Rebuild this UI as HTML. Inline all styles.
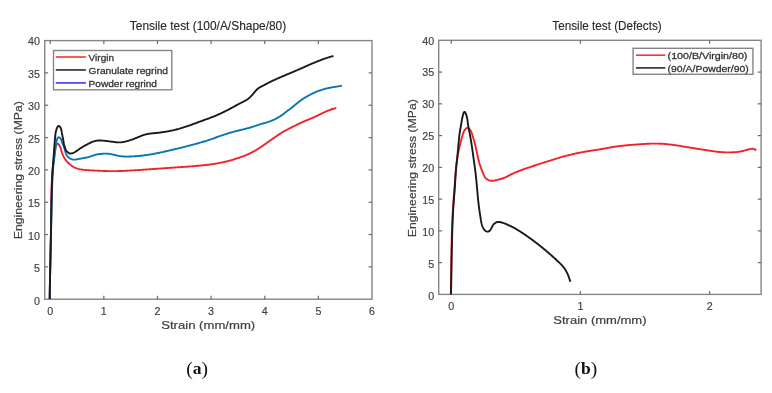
<!DOCTYPE html>
<html><head><meta charset="utf-8"><title>Tensile test</title>
<style>
html,body{margin:0;padding:0;background:#fff;}
body{width:772px;height:393px;overflow:hidden;}
svg{display:block;filter:blur(0.25px);}
text{stroke-linejoin:round;}
.t{font-family:"Liberation Sans",sans-serif;font-size:10px;fill:#404040;stroke:#404040;stroke-width:0.15px;}
.ti{font-family:"Liberation Sans",sans-serif;font-size:12.9px;fill:#2a2a2a;stroke:#2a2a2a;stroke-width:0.15px;}
.xl{font-family:"Liberation Sans",sans-serif;font-size:11px;fill:#404040;stroke:#404040;stroke-width:0.2px;}
.lg{font-family:"Liberation Sans",sans-serif;font-size:9.2px;fill:#333;stroke:#333;stroke-width:0.28px;}
.cap{font-family:"Liberation Serif",serif;font-size:17.5px;fill:#111;}
</style></head><body>
<svg width="772" height="393" viewBox="0 0 772 393">
<rect width="772" height="393" fill="#fff"/>
<rect x="44.75" y="40.6" width="327.25" height="258.60" fill="none" stroke="#858585" stroke-width="1.4"/>
<line x1="50.20" y1="299.2" x2="50.20" y2="295.8" stroke="#6a6a6a" stroke-width="1.2"/>
<line x1="50.20" y1="40.6" x2="50.20" y2="44.0" stroke="#6a6a6a" stroke-width="1.2"/>
<line x1="103.83" y1="299.2" x2="103.83" y2="295.8" stroke="#6a6a6a" stroke-width="1.2"/>
<line x1="103.83" y1="40.6" x2="103.83" y2="44.0" stroke="#6a6a6a" stroke-width="1.2"/>
<line x1="157.46" y1="299.2" x2="157.46" y2="295.8" stroke="#6a6a6a" stroke-width="1.2"/>
<line x1="157.46" y1="40.6" x2="157.46" y2="44.0" stroke="#6a6a6a" stroke-width="1.2"/>
<line x1="211.09" y1="299.2" x2="211.09" y2="295.8" stroke="#6a6a6a" stroke-width="1.2"/>
<line x1="211.09" y1="40.6" x2="211.09" y2="44.0" stroke="#6a6a6a" stroke-width="1.2"/>
<line x1="264.72" y1="299.2" x2="264.72" y2="295.8" stroke="#6a6a6a" stroke-width="1.2"/>
<line x1="264.72" y1="40.6" x2="264.72" y2="44.0" stroke="#6a6a6a" stroke-width="1.2"/>
<line x1="318.35" y1="299.2" x2="318.35" y2="295.8" stroke="#6a6a6a" stroke-width="1.2"/>
<line x1="318.35" y1="40.6" x2="318.35" y2="44.0" stroke="#6a6a6a" stroke-width="1.2"/>
<line x1="44.75" y1="266.88" x2="48.15" y2="266.88" stroke="#6a6a6a" stroke-width="1.2"/>
<line x1="372.0" y1="266.88" x2="368.6" y2="266.88" stroke="#6a6a6a" stroke-width="1.2"/>
<line x1="44.75" y1="234.55" x2="48.15" y2="234.55" stroke="#6a6a6a" stroke-width="1.2"/>
<line x1="372.0" y1="234.55" x2="368.6" y2="234.55" stroke="#6a6a6a" stroke-width="1.2"/>
<line x1="44.75" y1="202.22" x2="48.15" y2="202.22" stroke="#6a6a6a" stroke-width="1.2"/>
<line x1="372.0" y1="202.22" x2="368.6" y2="202.22" stroke="#6a6a6a" stroke-width="1.2"/>
<line x1="44.75" y1="169.90" x2="48.15" y2="169.90" stroke="#6a6a6a" stroke-width="1.2"/>
<line x1="372.0" y1="169.90" x2="368.6" y2="169.90" stroke="#6a6a6a" stroke-width="1.2"/>
<line x1="44.75" y1="137.57" x2="48.15" y2="137.57" stroke="#6a6a6a" stroke-width="1.2"/>
<line x1="372.0" y1="137.57" x2="368.6" y2="137.57" stroke="#6a6a6a" stroke-width="1.2"/>
<line x1="44.75" y1="105.25" x2="48.15" y2="105.25" stroke="#6a6a6a" stroke-width="1.2"/>
<line x1="372.0" y1="105.25" x2="368.6" y2="105.25" stroke="#6a6a6a" stroke-width="1.2"/>
<line x1="44.75" y1="72.92" x2="48.15" y2="72.92" stroke="#6a6a6a" stroke-width="1.2"/>
<line x1="372.0" y1="72.92" x2="368.6" y2="72.92" stroke="#6a6a6a" stroke-width="1.2"/>
<rect x="438.7" y="40.3" width="322.40" height="254.10" fill="none" stroke="#858585" stroke-width="1.4"/>
<line x1="451.20" y1="294.4" x2="451.20" y2="291.0" stroke="#6a6a6a" stroke-width="1.2"/>
<line x1="451.20" y1="40.3" x2="451.20" y2="43.699999999999996" stroke="#6a6a6a" stroke-width="1.2"/>
<line x1="580.40" y1="294.4" x2="580.40" y2="291.0" stroke="#6a6a6a" stroke-width="1.2"/>
<line x1="580.40" y1="40.3" x2="580.40" y2="43.699999999999996" stroke="#6a6a6a" stroke-width="1.2"/>
<line x1="709.60" y1="294.4" x2="709.60" y2="291.0" stroke="#6a6a6a" stroke-width="1.2"/>
<line x1="709.60" y1="40.3" x2="709.60" y2="43.699999999999996" stroke="#6a6a6a" stroke-width="1.2"/>
<line x1="438.7" y1="262.64" x2="442.09999999999997" y2="262.64" stroke="#6a6a6a" stroke-width="1.2"/>
<line x1="761.1" y1="262.64" x2="757.7" y2="262.64" stroke="#6a6a6a" stroke-width="1.2"/>
<line x1="438.7" y1="230.87" x2="442.09999999999997" y2="230.87" stroke="#6a6a6a" stroke-width="1.2"/>
<line x1="761.1" y1="230.87" x2="757.7" y2="230.87" stroke="#6a6a6a" stroke-width="1.2"/>
<line x1="438.7" y1="199.11" x2="442.09999999999997" y2="199.11" stroke="#6a6a6a" stroke-width="1.2"/>
<line x1="761.1" y1="199.11" x2="757.7" y2="199.11" stroke="#6a6a6a" stroke-width="1.2"/>
<line x1="438.7" y1="167.35" x2="442.09999999999997" y2="167.35" stroke="#6a6a6a" stroke-width="1.2"/>
<line x1="761.1" y1="167.35" x2="757.7" y2="167.35" stroke="#6a6a6a" stroke-width="1.2"/>
<line x1="438.7" y1="135.59" x2="442.09999999999997" y2="135.59" stroke="#6a6a6a" stroke-width="1.2"/>
<line x1="761.1" y1="135.59" x2="757.7" y2="135.59" stroke="#6a6a6a" stroke-width="1.2"/>
<line x1="438.7" y1="103.82" x2="442.09999999999997" y2="103.82" stroke="#6a6a6a" stroke-width="1.2"/>
<line x1="761.1" y1="103.82" x2="757.7" y2="103.82" stroke="#6a6a6a" stroke-width="1.2"/>
<line x1="438.7" y1="72.06" x2="442.09999999999997" y2="72.06" stroke="#6a6a6a" stroke-width="1.2"/>
<line x1="761.1" y1="72.06" x2="757.7" y2="72.06" stroke="#6a6a6a" stroke-width="1.2"/>
<text x="50.20" y="314.8" class="t" text-anchor="middle" textLength="5.95" lengthAdjust="spacingAndGlyphs">0</text>
<text x="103.83" y="314.8" class="t" text-anchor="middle" textLength="5.95" lengthAdjust="spacingAndGlyphs">1</text>
<text x="157.46" y="314.8" class="t" text-anchor="middle" textLength="5.95" lengthAdjust="spacingAndGlyphs">2</text>
<text x="211.09" y="314.8" class="t" text-anchor="middle" textLength="5.95" lengthAdjust="spacingAndGlyphs">3</text>
<text x="264.72" y="314.8" class="t" text-anchor="middle" textLength="5.95" lengthAdjust="spacingAndGlyphs">4</text>
<text x="318.35" y="314.8" class="t" text-anchor="middle" textLength="5.95" lengthAdjust="spacingAndGlyphs">5</text>
<text x="371.98" y="314.8" class="t" text-anchor="middle" textLength="5.95" lengthAdjust="spacingAndGlyphs">6</text>
<text x="40.0" y="304.70" class="t" text-anchor="end" textLength="5.95" lengthAdjust="spacingAndGlyphs">0</text>
<text x="40.0" y="272.29" class="t" text-anchor="end" textLength="5.95" lengthAdjust="spacingAndGlyphs">5</text>
<text x="40.0" y="239.88" class="t" text-anchor="end" textLength="11.90" lengthAdjust="spacingAndGlyphs">10</text>
<text x="40.0" y="207.46" class="t" text-anchor="end" textLength="11.90" lengthAdjust="spacingAndGlyphs">15</text>
<text x="40.0" y="175.05" class="t" text-anchor="end" textLength="11.90" lengthAdjust="spacingAndGlyphs">20</text>
<text x="40.0" y="142.64" class="t" text-anchor="end" textLength="11.90" lengthAdjust="spacingAndGlyphs">25</text>
<text x="40.0" y="110.22" class="t" text-anchor="end" textLength="11.90" lengthAdjust="spacingAndGlyphs">30</text>
<text x="40.0" y="77.81" class="t" text-anchor="end" textLength="11.90" lengthAdjust="spacingAndGlyphs">35</text>
<text x="40.0" y="45.40" class="t" text-anchor="end" textLength="11.90" lengthAdjust="spacingAndGlyphs">40</text>
<text x="451.20" y="310.1" class="t" text-anchor="middle" textLength="5.95" lengthAdjust="spacingAndGlyphs">0</text>
<text x="580.40" y="310.1" class="t" text-anchor="middle" textLength="5.95" lengthAdjust="spacingAndGlyphs">1</text>
<text x="709.60" y="310.1" class="t" text-anchor="middle" textLength="5.95" lengthAdjust="spacingAndGlyphs">2</text>
<text x="434.1" y="299.90" class="t" text-anchor="end" textLength="5.95" lengthAdjust="spacingAndGlyphs">0</text>
<text x="434.1" y="267.97" class="t" text-anchor="end" textLength="5.95" lengthAdjust="spacingAndGlyphs">5</text>
<text x="434.1" y="236.05" class="t" text-anchor="end" textLength="11.90" lengthAdjust="spacingAndGlyphs">10</text>
<text x="434.1" y="204.12" class="t" text-anchor="end" textLength="11.90" lengthAdjust="spacingAndGlyphs">15</text>
<text x="434.1" y="172.20" class="t" text-anchor="end" textLength="11.90" lengthAdjust="spacingAndGlyphs">20</text>
<text x="434.1" y="140.27" class="t" text-anchor="end" textLength="11.90" lengthAdjust="spacingAndGlyphs">25</text>
<text x="434.1" y="108.35" class="t" text-anchor="end" textLength="11.90" lengthAdjust="spacingAndGlyphs">30</text>
<text x="434.1" y="76.42" class="t" text-anchor="end" textLength="11.90" lengthAdjust="spacingAndGlyphs">35</text>
<text x="434.1" y="44.50" class="t" text-anchor="end" textLength="11.90" lengthAdjust="spacingAndGlyphs">40</text>
<text x="208" y="29.8" class="ti" text-anchor="middle" textLength="156.4" lengthAdjust="spacingAndGlyphs">Tensile test (100/A/Shape/80)</text>
<text x="607" y="29.9" class="ti" text-anchor="middle" textLength="109.4" lengthAdjust="spacingAndGlyphs">Tensile test (Defects)</text>
<text x="208.2" y="329" class="xl" text-anchor="middle" textLength="94" lengthAdjust="spacingAndGlyphs">Strain (mm/mm)</text>
<text x="599.9" y="324.4" class="xl" text-anchor="middle" textLength="93.3" lengthAdjust="spacingAndGlyphs">Strain (mm/mm)</text>
<text transform="translate(21.9,170.20) rotate(-90)" x="0" y="0" class="xl" text-anchor="middle" textLength="138.2" lengthAdjust="spacingAndGlyphs">Engineering stress (MPa)</text>
<text transform="translate(415.5,168.20) rotate(-90)" x="0" y="0" class="xl" text-anchor="middle" textLength="137.9" lengthAdjust="spacingAndGlyphs">Engineering stress (MPa)</text>
<g fill="none" stroke-width="1.9" stroke-linejoin="round" stroke-linecap="butt">
<path d="M49.70,299.00 L49.71,298.23 L49.72,297.46 L49.73,296.69 L49.74,295.91 L49.75,295.14 L49.76,294.37 L49.77,293.60 L49.78,292.83 L49.79,292.06 L49.80,291.29 L49.81,290.51 L49.83,289.74 L49.84,288.97 L49.85,288.20 L49.86,287.43 L49.87,286.66 L49.89,285.89 L49.90,285.11 L49.91,284.34 L49.93,283.57 L49.94,282.80 L49.96,282.03 L49.97,281.26 L49.98,280.49 L50.00,279.71 L50.01,278.94 L50.03,278.17 L50.04,277.40 L50.06,276.63 L50.07,275.86 L50.09,275.09 L50.10,274.32 L50.12,273.55 L50.13,272.77 L50.15,272.00 L50.16,271.23 L50.18,270.46 L50.20,269.69 L50.21,268.92 L50.23,268.15 L50.24,267.38 L50.26,266.60 L50.28,265.83 L50.29,265.06 L50.31,264.29 L50.33,263.52 L50.34,262.75 L50.36,261.98 L50.37,261.21 L50.39,260.44 L50.41,259.66 L50.42,258.89 L50.44,258.12 L50.46,257.35 L50.47,256.58 L50.49,255.81 L50.50,255.04 L50.52,254.27 L50.54,253.49 L50.55,252.72 L50.57,251.95 L50.58,251.18 L50.60,250.41 L50.62,249.64 L50.63,248.87 L50.65,248.10 L50.66,247.33 L50.68,246.55 L50.69,245.78 L50.71,245.01 L50.72,244.24 L50.74,243.47 L50.75,242.70 L50.77,241.93 L50.78,241.16 L50.80,240.38 L50.81,239.61 L50.83,238.84 L50.84,238.07 L50.85,237.30 L50.87,236.53 L50.88,235.76 L50.89,234.98 L50.91,234.21 L50.92,233.44 L50.93,232.67 L50.94,231.90 L50.96,231.13 L50.97,230.36 L50.98,229.59 L50.99,228.81 L51.00,228.04 L51.01,227.27 L51.02,226.50 L51.03,225.73 L51.04,224.96 L51.05,224.19 L51.06,223.41 L51.07,222.64 L51.08,221.87 L51.09,221.10 L51.10,220.33 L51.10,219.56 L51.11,218.78 L51.12,218.01 L51.13,217.24 L51.13,216.47 L51.14,215.70 L51.15,214.93 L51.15,214.15 L51.16,213.38 L51.17,212.61 L51.17,211.84 L51.18,211.07 L51.19,210.30 L51.19,209.52 L51.20,208.75 L51.21,207.98 L51.22,207.21 L51.22,206.44 L51.23,205.67 L51.24,204.89 L51.25,204.12 L51.26,203.35 L51.27,202.58 L51.28,201.81 L51.29,201.04 L51.30,200.27 L51.31,199.49 L51.33,198.72 L51.34,197.95 L51.35,197.18 L51.37,196.41 L51.38,195.64 L51.40,194.87 L51.42,194.10 L51.44,193.32 L51.45,192.55 L51.47,191.78 L51.50,191.01 L51.52,190.24 L51.54,189.47 L51.57,188.70 L51.59,187.93 L51.62,187.16 L51.65,186.39 L51.68,185.62 L51.71,184.85 L51.74,184.08 L51.77,183.31 L51.81,182.54 L51.84,181.77 L51.88,181.00 L51.92,180.23 L51.96,179.46 L52.00,178.69 L52.05,177.92 L52.09,177.15 L52.14,176.38 L52.19,175.61 L52.24,174.84 L52.29,174.07 L52.35,173.30 L52.40,172.53 L52.46,171.76 L52.52,170.99 L52.58,170.22 L52.65,169.45 L52.71,168.68 L52.78,167.91 L52.85,167.14 L52.92,166.37 L53.00,165.60 L53.07,164.83 L53.15,164.06 L53.23,163.29 L53.31,162.53 L53.40,161.76 L53.48,161.00 L53.57,160.24 L53.66,159.47 L53.76,158.71 L53.85,157.95 L53.95,157.19 L54.04,156.43 L54.14,155.66 L54.25,154.90 L54.35,154.13 L54.45,153.36 L54.56,152.58 L54.66,151.80 L54.78,151.02 L54.89,150.25 L55.02,149.49 L55.15,148.74 L55.30,148.02 L55.46,147.30 L55.65,146.59 L55.88,145.85 L56.17,145.07 L56.54,144.25 L57.02,143.68 L57.63,143.64 L58.31,144.10 L58.94,144.77 L59.46,145.46 L59.87,146.15 L60.19,146.85 L60.45,147.56 L60.67,148.27 L60.86,148.98 L61.05,149.70 L61.26,150.43 L61.48,151.16 L61.71,151.89 L61.96,152.63 L62.23,153.36 L62.51,154.09 L62.80,154.81 L63.12,155.52 L63.45,156.23 L63.80,156.92 L64.17,157.60 L64.56,158.27 L64.97,158.92 L65.40,159.56 L65.86,160.18 L66.33,160.79 L66.83,161.38 L67.35,161.95 L67.88,162.50 L68.44,163.04 L69.01,163.57 L69.59,164.08 L70.19,164.58 L70.80,165.06 L71.42,165.53 L72.05,165.98 L72.70,166.41 L73.36,166.82 L74.03,167.20 L74.71,167.56 L75.41,167.89 L76.12,168.19 L76.83,168.45 L77.56,168.69 L78.30,168.91 L79.05,169.09 L79.80,169.26 L80.56,169.41 L81.33,169.53 L82.10,169.65 L82.87,169.75 L83.65,169.83 L84.42,169.91 L85.20,169.98 L85.98,170.05 L86.75,170.11 L87.53,170.17 L88.30,170.22 L89.07,170.28 L89.84,170.32 L90.61,170.37 L91.38,170.41 L92.15,170.45 L92.92,170.49 L93.69,170.53 L94.46,170.56 L95.23,170.60 L96.00,170.63 L96.76,170.66 L97.53,170.70 L98.30,170.73 L99.07,170.76 L99.84,170.79 L100.61,170.83 L101.38,170.86 L102.15,170.89 L102.92,170.93 L103.69,170.96 L104.46,170.99 L105.23,171.02 L106.00,171.04 L106.77,171.07 L107.55,171.09 L108.32,171.11 L109.09,171.12 L109.86,171.13 L110.63,171.14 L111.40,171.15 L112.18,171.15 L112.95,171.15 L113.72,171.14 L114.49,171.14 L115.26,171.13 L116.03,171.11 L116.80,171.10 L117.58,171.08 L118.35,171.06 L119.12,171.04 L119.89,171.02 L120.66,170.99 L121.43,170.96 L122.20,170.93 L122.97,170.90 L123.75,170.87 L124.52,170.83 L125.29,170.80 L126.06,170.76 L126.83,170.72 L127.60,170.68 L128.37,170.64 L129.14,170.60 L129.91,170.56 L130.68,170.51 L131.45,170.47 L132.22,170.42 L132.99,170.38 L133.76,170.33 L134.53,170.28 L135.30,170.24 L136.07,170.19 L136.84,170.14 L137.61,170.09 L138.38,170.04 L139.15,169.99 L139.92,169.94 L140.69,169.89 L141.46,169.84 L142.23,169.79 L143.00,169.74 L143.77,169.68 L144.54,169.63 L145.31,169.58 L146.08,169.53 L146.85,169.47 L147.62,169.42 L148.39,169.37 L149.16,169.31 L149.93,169.26 L150.70,169.20 L151.47,169.15 L152.24,169.10 L153.00,169.04 L153.77,168.99 L154.54,168.93 L155.31,168.88 L156.08,168.82 L156.85,168.77 L157.62,168.71 L158.39,168.66 L159.16,168.61 L159.93,168.55 L160.70,168.50 L161.47,168.44 L162.24,168.39 L163.01,168.34 L163.78,168.28 L164.55,168.23 L165.32,168.17 L166.09,168.12 L166.86,168.07 L167.63,168.01 L168.39,167.96 L169.16,167.90 L169.93,167.85 L170.70,167.80 L171.47,167.74 L172.24,167.69 L173.01,167.64 L173.78,167.58 L174.55,167.53 L175.32,167.48 L176.09,167.42 L176.86,167.37 L177.63,167.32 L178.40,167.27 L179.17,167.21 L179.94,167.16 L180.71,167.11 L181.48,167.05 L182.25,167.00 L183.02,166.95 L183.79,166.89 L184.56,166.84 L185.33,166.79 L186.10,166.73 L186.87,166.68 L187.63,166.62 L188.40,166.56 L189.17,166.51 L189.94,166.45 L190.71,166.39 L191.48,166.33 L192.25,166.27 L193.02,166.21 L193.79,166.15 L194.56,166.08 L195.33,166.02 L196.09,165.95 L196.86,165.89 L197.63,165.82 L198.40,165.75 L199.17,165.68 L199.94,165.61 L200.70,165.53 L201.47,165.46 L202.24,165.38 L203.01,165.30 L203.77,165.22 L204.54,165.14 L205.31,165.05 L206.07,164.97 L206.84,164.88 L207.61,164.79 L208.37,164.69 L209.14,164.60 L209.90,164.50 L210.67,164.39 L211.43,164.29 L212.20,164.18 L212.96,164.07 L213.72,163.95 L214.48,163.83 L215.25,163.71 L216.01,163.58 L216.77,163.45 L217.53,163.32 L218.29,163.18 L219.05,163.04 L219.81,162.90 L220.56,162.75 L221.32,162.60 L222.08,162.44 L222.83,162.29 L223.58,162.12 L224.34,161.95 L225.09,161.78 L225.84,161.61 L226.59,161.43 L227.34,161.24 L228.09,161.05 L228.84,160.86 L229.58,160.66 L230.33,160.46 L231.07,160.26 L231.81,160.05 L232.55,159.84 L233.29,159.62 L234.03,159.40 L234.77,159.17 L235.51,158.94 L236.24,158.71 L236.98,158.47 L237.71,158.22 L238.44,157.98 L239.17,157.73 L239.90,157.47 L240.63,157.21 L241.36,156.95 L242.08,156.68 L242.80,156.41 L243.52,156.13 L244.24,155.85 L244.96,155.56 L245.68,155.26 L246.39,154.97 L247.10,154.66 L247.81,154.35 L248.51,154.03 L249.21,153.71 L249.91,153.38 L250.60,153.05 L251.29,152.70 L251.98,152.35 L252.66,151.99 L253.34,151.63 L254.02,151.26 L254.69,150.88 L255.36,150.49 L256.02,150.10 L256.68,149.70 L257.34,149.30 L258.00,148.89 L258.65,148.48 L259.30,148.06 L259.94,147.64 L260.59,147.21 L261.23,146.78 L261.87,146.35 L262.51,145.92 L263.15,145.48 L263.78,145.05 L264.41,144.61 L265.05,144.17 L265.68,143.72 L266.31,143.28 L266.94,142.83 L267.57,142.39 L268.20,141.94 L268.82,141.49 L269.45,141.05 L270.08,140.60 L270.71,140.15 L271.34,139.70 L271.97,139.26 L272.60,138.81 L273.23,138.37 L273.86,137.92 L274.50,137.48 L275.13,137.04 L275.77,136.61 L276.41,136.17 L277.05,135.74 L277.69,135.31 L278.33,134.88 L278.98,134.46 L279.63,134.04 L280.28,133.63 L280.93,133.22 L281.58,132.81 L282.24,132.41 L282.90,132.01 L283.57,131.62 L284.24,131.24 L284.91,130.86 L285.58,130.48 L286.26,130.11 L286.94,129.75 L287.62,129.39 L288.30,129.03 L288.99,128.68 L289.68,128.33 L290.37,127.98 L291.06,127.64 L291.75,127.30 L292.44,126.95 L293.13,126.61 L293.83,126.27 L294.52,125.93 L295.21,125.59 L295.90,125.25 L296.60,124.91 L297.29,124.56 L297.98,124.22 L298.67,123.88 L299.36,123.54 L300.06,123.21 L300.76,122.88 L301.45,122.55 L302.16,122.23 L302.86,121.92 L303.57,121.61 L304.28,121.30 L304.99,121.00 L305.70,120.71 L306.41,120.41 L307.13,120.12 L307.84,119.83 L308.56,119.54 L309.27,119.25 L309.98,118.95 L310.70,118.66 L311.41,118.36 L312.12,118.06 L312.83,117.75 L313.53,117.44 L314.24,117.12 L314.94,116.80 L315.64,116.48 L316.33,116.14 L317.03,115.81 L317.72,115.48 L318.42,115.14 L319.11,114.80 L319.81,114.46 L320.50,114.12 L321.19,113.78 L321.89,113.44 L322.58,113.11 L323.28,112.78 L323.97,112.45 L324.67,112.12 L325.37,111.80 L326.08,111.49 L326.78,111.18 L327.49,110.88 L328.20,110.58 L328.91,110.29 L329.63,110.02 L330.35,109.75 L331.08,109.49 L331.81,109.24 L332.55,109.00 L333.29,108.77 L334.03,108.56 L334.78,108.36 L335.54,108.17 L336.30,108.00" stroke="#f2222c"/>
<path d="M49.70,299.00 L49.71,298.21 L49.72,297.41 L49.73,296.62 L49.74,295.83 L49.75,295.04 L49.76,294.24 L49.78,293.45 L49.79,292.66 L49.80,291.87 L49.81,291.07 L49.82,290.28 L49.84,289.49 L49.85,288.70 L49.86,287.91 L49.87,287.11 L49.89,286.32 L49.90,285.53 L49.91,284.74 L49.93,283.94 L49.94,283.15 L49.95,282.36 L49.97,281.57 L49.98,280.77 L50.00,279.98 L50.01,279.19 L50.03,278.40 L50.04,277.60 L50.06,276.81 L50.07,276.02 L50.09,275.23 L50.10,274.43 L50.12,273.64 L50.13,272.85 L50.15,272.06 L50.16,271.27 L50.18,270.47 L50.20,269.68 L50.21,268.89 L50.23,268.10 L50.24,267.30 L50.26,266.51 L50.28,265.72 L50.29,264.93 L50.31,264.13 L50.33,263.34 L50.34,262.55 L50.36,261.76 L50.38,260.97 L50.40,260.17 L50.41,259.38 L50.43,258.59 L50.45,257.80 L50.47,257.00 L50.48,256.21 L50.50,255.42 L50.52,254.63 L50.54,253.84 L50.55,253.04 L50.57,252.25 L50.59,251.46 L50.61,250.67 L50.62,249.87 L50.64,249.08 L50.66,248.29 L50.68,247.50 L50.70,246.70 L50.71,245.91 L50.73,245.12 L50.75,244.33 L50.77,243.54 L50.79,242.74 L50.81,241.95 L50.82,241.16 L50.84,240.37 L50.86,239.57 L50.88,238.78 L50.90,237.99 L50.91,237.20 L50.93,236.41 L50.95,235.61 L50.97,234.82 L50.99,234.03 L51.00,233.24 L51.02,232.44 L51.04,231.65 L51.06,230.86 L51.08,230.07 L51.09,229.27 L51.11,228.48 L51.13,227.69 L51.15,226.90 L51.17,226.10 L51.18,225.31 L51.20,224.52 L51.22,223.73 L51.24,222.94 L51.25,222.14 L51.27,221.35 L51.29,220.56 L51.31,219.77 L51.32,218.97 L51.34,218.18 L51.36,217.39 L51.37,216.60 L51.39,215.80 L51.41,215.01 L51.42,214.22 L51.44,213.43 L51.46,212.63 L51.48,211.84 L51.49,211.05 L51.51,210.26 L51.53,209.46 L51.55,208.67 L51.56,207.88 L51.58,207.09 L51.60,206.29 L51.62,205.50 L51.64,204.71 L51.65,203.92 L51.67,203.12 L51.69,202.33 L51.71,201.54 L51.73,200.75 L51.75,199.96 L51.77,199.16 L51.79,198.37 L51.81,197.58 L51.83,196.79 L51.86,195.99 L51.88,195.20 L51.90,194.41 L51.92,193.62 L51.95,192.83 L51.97,192.03 L51.99,191.24 L52.02,190.45 L52.04,189.66 L52.07,188.87 L52.09,188.07 L52.12,187.28 L52.15,186.49 L52.18,185.70 L52.20,184.91 L52.23,184.12 L52.26,183.32 L52.29,182.53 L52.32,181.74 L52.36,180.95 L52.39,180.16 L52.42,179.37 L52.46,178.57 L52.50,177.78 L52.54,176.99 L52.58,176.20 L52.63,175.41 L52.67,174.62 L52.72,173.83 L52.78,173.04 L52.83,172.24 L52.89,171.45 L52.95,170.66 L53.01,169.87 L53.08,169.08 L53.15,168.29 L53.22,167.50 L53.30,166.71 L53.38,165.92 L53.46,165.13 L53.54,164.35 L53.63,163.56 L53.73,162.78 L53.82,161.99 L53.92,161.21 L54.02,160.43 L54.12,159.65 L54.23,158.86 L54.33,158.08 L54.43,157.29 L54.54,156.49 L54.64,155.70 L54.74,154.89 L54.84,154.09 L54.94,153.28 L55.04,152.48 L55.13,151.68 L55.23,150.88 L55.32,150.08 L55.41,149.30 L55.50,148.52 L55.59,147.75 L55.68,146.99 L55.77,146.24 L55.86,145.51 L55.95,144.79 L56.05,144.06 L56.16,143.33 L56.29,142.57 L56.45,141.79 L56.64,140.97 L56.86,140.10 L57.13,139.17 L57.46,138.27 L57.88,137.56 L58.43,137.21 L59.11,137.35 L59.83,137.84 L60.43,138.47 L60.89,139.14 L61.25,139.85 L61.53,140.58 L61.78,141.32 L62.02,142.07 L62.29,142.81 L62.57,143.55 L62.87,144.28 L63.17,145.02 L63.48,145.75 L63.78,146.49 L64.06,147.23 L64.33,147.98 L64.57,148.74 L64.79,149.50 L64.99,150.28 L65.18,151.05 L65.39,151.82 L65.61,152.58 L65.86,153.33 L66.15,154.06 L66.49,154.77 L66.89,155.46 L67.35,156.11 L67.86,156.72 L68.42,157.30 L69.03,157.82 L69.68,158.30 L70.37,158.71 L71.10,159.06 L71.84,159.33 L72.60,159.52 L73.37,159.63 L74.15,159.66 L74.94,159.62 L75.73,159.54 L76.53,159.42 L77.32,159.27 L78.12,159.10 L78.92,158.94 L79.71,158.78 L80.51,158.63 L81.30,158.49 L82.08,158.35 L82.87,158.22 L83.65,158.09 L84.42,157.95 L85.20,157.80 L85.97,157.65 L86.73,157.48 L87.50,157.30 L88.26,157.10 L89.01,156.88 L89.77,156.64 L90.52,156.39 L91.27,156.12 L92.02,155.86 L92.77,155.60 L93.52,155.35 L94.28,155.11 L95.04,154.89 L95.81,154.70 L96.58,154.53 L97.36,154.39 L98.14,154.26 L98.93,154.14 L99.71,154.04 L100.50,153.94 L101.29,153.85 L102.08,153.76 L102.87,153.70 L103.66,153.64 L104.45,153.61 L105.24,153.60 L106.04,153.61 L106.83,153.65 L107.62,153.71 L108.41,153.79 L109.20,153.88 L109.98,154.00 L110.77,154.13 L111.55,154.27 L112.32,154.43 L113.10,154.59 L113.87,154.77 L114.64,154.95 L115.41,155.14 L116.19,155.32 L116.96,155.50 L117.73,155.67 L118.51,155.83 L119.28,155.98 L120.07,156.11 L120.85,156.22 L121.63,156.31 L122.42,156.39 L123.21,156.46 L124.00,156.51 L124.80,156.54 L125.59,156.57 L126.39,156.58 L127.18,156.58 L127.98,156.58 L128.77,156.57 L129.57,156.55 L130.37,156.52 L131.16,156.49 L131.95,156.45 L132.75,156.41 L133.54,156.37 L134.33,156.32 L135.12,156.27 L135.91,156.21 L136.70,156.15 L137.49,156.09 L138.28,156.02 L139.07,155.95 L139.86,155.87 L140.65,155.79 L141.43,155.70 L142.22,155.61 L143.01,155.51 L143.79,155.42 L144.58,155.31 L145.36,155.21 L146.15,155.09 L146.93,154.98 L147.71,154.86 L148.50,154.74 L149.28,154.61 L150.06,154.48 L150.85,154.35 L151.63,154.22 L152.41,154.08 L153.19,153.94 L153.97,153.79 L154.75,153.65 L155.53,153.50 L156.30,153.35 L157.08,153.19 L157.86,153.04 L158.64,152.88 L159.41,152.72 L160.19,152.56 L160.96,152.39 L161.74,152.23 L162.51,152.06 L163.29,151.89 L164.06,151.72 L164.83,151.55 L165.61,151.38 L166.38,151.20 L167.15,151.03 L167.93,150.85 L168.70,150.68 L169.47,150.50 L170.24,150.32 L171.02,150.14 L171.79,149.96 L172.56,149.78 L173.33,149.60 L174.10,149.42 L174.87,149.23 L175.64,149.05 L176.41,148.86 L177.18,148.68 L177.95,148.49 L178.72,148.30 L179.49,148.11 L180.26,147.91 L181.03,147.72 L181.80,147.53 L182.57,147.33 L183.33,147.14 L184.10,146.94 L184.87,146.75 L185.64,146.55 L186.41,146.35 L187.17,146.15 L187.94,145.95 L188.71,145.75 L189.47,145.55 L190.24,145.35 L191.01,145.15 L191.77,144.95 L192.54,144.75 L193.31,144.55 L194.07,144.34 L194.84,144.14 L195.60,143.93 L196.37,143.72 L197.13,143.51 L197.89,143.30 L198.66,143.08 L199.42,142.87 L200.18,142.65 L200.94,142.43 L201.70,142.20 L202.46,141.97 L203.22,141.74 L203.98,141.51 L204.73,141.28 L205.49,141.04 L206.25,140.80 L207.00,140.56 L207.76,140.31 L208.51,140.07 L209.26,139.82 L210.01,139.57 L210.76,139.32 L211.51,139.06 L212.26,138.80 L213.01,138.55 L213.76,138.29 L214.51,138.02 L215.26,137.76 L216.01,137.50 L216.75,137.24 L217.50,136.97 L218.25,136.71 L219.00,136.45 L219.75,136.19 L220.49,135.93 L221.24,135.67 L221.99,135.41 L222.74,135.15 L223.49,134.90 L224.24,134.65 L225.00,134.40 L225.75,134.15 L226.50,133.91 L227.26,133.67 L228.02,133.43 L228.77,133.19 L229.53,132.96 L230.29,132.73 L231.05,132.51 L231.81,132.29 L232.57,132.07 L233.34,131.86 L234.10,131.65 L234.87,131.45 L235.64,131.25 L236.40,131.05 L237.17,130.86 L237.94,130.67 L238.71,130.48 L239.48,130.30 L240.25,130.11 L241.03,129.93 L241.80,129.74 L242.57,129.55 L243.34,129.37 L244.11,129.18 L244.88,128.99 L245.64,128.79 L246.41,128.59 L247.18,128.39 L247.94,128.18 L248.71,127.97 L249.47,127.76 L250.23,127.53 L250.98,127.30 L251.74,127.07 L252.50,126.83 L253.25,126.59 L254.00,126.34 L254.76,126.09 L255.51,125.84 L256.26,125.60 L257.02,125.35 L257.77,125.10 L258.53,124.86 L259.28,124.62 L260.04,124.39 L260.80,124.16 L261.56,123.93 L262.32,123.71 L263.08,123.49 L263.84,123.27 L264.60,123.05 L265.36,122.82 L266.12,122.60 L266.88,122.36 L267.63,122.12 L268.39,121.88 L269.14,121.62 L269.88,121.35 L270.63,121.07 L271.37,120.79 L272.10,120.49 L272.84,120.18 L273.56,119.86 L274.28,119.53 L275.00,119.18 L275.71,118.83 L276.41,118.47 L277.11,118.09 L277.80,117.70 L278.48,117.30 L279.16,116.89 L279.83,116.46 L280.50,116.03 L281.15,115.59 L281.81,115.14 L282.46,114.68 L283.10,114.22 L283.74,113.75 L284.38,113.28 L285.01,112.80 L285.64,112.32 L286.27,111.83 L286.90,111.35 L287.52,110.86 L288.15,110.37 L288.77,109.88 L289.39,109.39 L290.01,108.89 L290.63,108.40 L291.25,107.91 L291.87,107.41 L292.49,106.91 L293.10,106.42 L293.72,105.92 L294.34,105.42 L294.95,104.92 L295.57,104.42 L296.19,103.93 L296.80,103.43 L297.42,102.93 L298.04,102.44 L298.67,101.95 L299.30,101.47 L299.93,101.00 L300.57,100.53 L301.22,100.07 L301.87,99.62 L302.53,99.18 L303.19,98.75 L303.86,98.32 L304.53,97.90 L305.21,97.49 L305.89,97.08 L306.58,96.68 L307.27,96.29 L307.96,95.90 L308.66,95.52 L309.36,95.15 L310.06,94.78 L310.77,94.41 L311.47,94.05 L312.19,93.70 L312.90,93.35 L313.62,93.01 L314.34,92.67 L315.06,92.35 L315.79,92.03 L316.52,91.72 L317.25,91.41 L317.98,91.12 L318.72,90.84 L319.47,90.56 L320.21,90.30 L320.96,90.05 L321.72,89.80 L322.47,89.57 L323.23,89.35 L324.00,89.13 L324.76,88.93 L325.53,88.73 L326.30,88.54 L327.07,88.36 L327.85,88.19 L328.62,88.02 L329.40,87.86 L330.18,87.70 L330.96,87.55 L331.74,87.40 L332.52,87.26 L333.31,87.12 L334.09,86.99 L334.87,86.85 L335.66,86.72 L336.44,86.59 L337.22,86.46 L338.01,86.34 L338.79,86.21 L339.57,86.08 L340.35,85.96 L341.12,85.83 L341.90,85.70" stroke="#0876b2"/>
<path d="M49.70,299.00 L49.71,298.18 L49.72,297.36 L49.73,296.54 L49.74,295.72 L49.76,294.90 L49.77,294.08 L49.78,293.26 L49.79,292.44 L49.80,291.62 L49.82,290.80 L49.83,289.98 L49.84,289.16 L49.86,288.34 L49.87,287.52 L49.88,286.70 L49.90,285.88 L49.91,285.06 L49.92,284.24 L49.94,283.42 L49.95,282.60 L49.97,281.78 L49.98,280.96 L50.00,280.14 L50.01,279.32 L50.03,278.50 L50.04,277.68 L50.06,276.86 L50.07,276.04 L50.09,275.22 L50.11,274.40 L50.12,273.58 L50.14,272.76 L50.15,271.95 L50.17,271.13 L50.19,270.31 L50.20,269.49 L50.22,268.67 L50.24,267.85 L50.25,267.03 L50.27,266.21 L50.29,265.39 L50.30,264.57 L50.32,263.75 L50.34,262.93 L50.36,262.11 L50.37,261.29 L50.39,260.47 L50.41,259.65 L50.42,258.83 L50.44,258.01 L50.46,257.19 L50.48,256.37 L50.49,255.55 L50.51,254.73 L50.53,253.91 L50.55,253.09 L50.56,252.27 L50.58,251.45 L50.60,250.63 L50.62,249.81 L50.63,248.99 L50.65,248.17 L50.67,247.35 L50.69,246.53 L50.70,245.71 L50.72,244.90 L50.74,244.08 L50.75,243.26 L50.77,242.44 L50.79,241.62 L50.81,240.80 L50.82,239.98 L50.84,239.16 L50.86,238.34 L50.87,237.52 L50.89,236.70 L50.91,235.88 L50.92,235.06 L50.94,234.24 L50.95,233.42 L50.97,232.60 L50.99,231.78 L51.00,230.96 L51.02,230.14 L51.03,229.32 L51.05,228.50 L51.06,227.68 L51.08,226.86 L51.09,226.04 L51.11,225.22 L51.12,224.40 L51.14,223.58 L51.15,222.76 L51.17,221.94 L51.18,221.12 L51.19,220.30 L51.21,219.48 L51.22,218.66 L51.24,217.84 L51.25,217.02 L51.26,216.20 L51.28,215.38 L51.29,214.56 L51.30,213.74 L51.31,212.92 L51.33,212.10 L51.34,211.28 L51.35,210.46 L51.37,209.64 L51.38,208.82 L51.39,208.00 L51.41,207.18 L51.42,206.36 L51.43,205.54 L51.45,204.72 L51.46,203.90 L51.48,203.08 L51.49,202.26 L51.51,201.44 L51.52,200.62 L51.54,199.80 L51.55,198.98 L51.57,198.16 L51.59,197.34 L51.60,196.52 L51.62,195.70 L51.64,194.88 L51.66,194.06 L51.68,193.24 L51.70,192.42 L51.72,191.61 L51.74,190.79 L51.76,189.97 L51.78,189.15 L51.80,188.33 L51.82,187.51 L51.85,186.69 L51.87,185.87 L51.90,185.05 L51.92,184.23 L51.95,183.41 L51.98,182.59 L52.01,181.77 L52.04,180.96 L52.07,180.14 L52.10,179.32 L52.14,178.50 L52.17,177.68 L52.21,176.86 L52.25,176.04 L52.29,175.22 L52.33,174.40 L52.38,173.58 L52.42,172.77 L52.47,171.95 L52.52,171.13 L52.58,170.31 L52.64,169.49 L52.70,168.67 L52.76,167.85 L52.82,167.03 L52.88,166.21 L52.95,165.39 L53.01,164.58 L53.08,163.76 L53.15,162.94 L53.21,162.13 L53.28,161.31 L53.34,160.50 L53.40,159.69 L53.46,158.88 L53.52,158.06 L53.58,157.25 L53.63,156.44 L53.69,155.63 L53.75,154.81 L53.80,154.00 L53.86,153.18 L53.92,152.37 L53.97,151.55 L54.03,150.73 L54.09,149.91 L54.15,149.08 L54.21,148.25 L54.27,147.42 L54.33,146.59 L54.39,145.75 L54.46,144.91 L54.53,144.07 L54.59,143.23 L54.66,142.39 L54.73,141.56 L54.80,140.73 L54.88,139.91 L54.95,139.10 L55.02,138.29 L55.10,137.50 L55.18,136.71 L55.25,135.94 L55.33,135.19 L55.42,134.44 L55.51,133.69 L55.62,132.94 L55.76,132.18 L55.92,131.39 L56.13,130.57 L56.39,129.71 L56.69,128.80 L57.06,127.84 L57.49,126.93 L57.99,126.23 L58.55,125.90 L59.19,126.08 L59.82,126.67 L60.38,127.43 L60.81,128.22 L61.11,129.00 L61.33,129.78 L61.49,130.57 L61.61,131.36 L61.72,132.15 L61.85,132.94 L62.00,133.74 L62.15,134.54 L62.32,135.35 L62.48,136.15 L62.65,136.96 L62.82,137.77 L62.98,138.58 L63.14,139.39 L63.28,140.21 L63.42,141.02 L63.56,141.83 L63.70,142.64 L63.84,143.45 L64.00,144.25 L64.17,145.05 L64.36,145.85 L64.57,146.64 L64.81,147.42 L65.08,148.20 L65.38,148.96 L65.74,149.70 L66.14,150.42 L66.60,151.11 L67.14,151.75 L67.74,152.35 L68.40,152.86 L69.13,153.24 L69.91,153.47 L70.72,153.52 L71.55,153.43 L72.37,153.24 L73.16,152.96 L73.91,152.62 L74.63,152.23 L75.33,151.81 L76.02,151.36 L76.70,150.90 L77.38,150.43 L78.06,149.97 L78.73,149.51 L79.41,149.04 L80.09,148.58 L80.77,148.13 L81.46,147.68 L82.15,147.24 L82.84,146.81 L83.54,146.39 L84.25,145.98 L84.96,145.58 L85.68,145.18 L86.40,144.79 L87.13,144.41 L87.86,144.03 L88.59,143.66 L89.33,143.29 L90.07,142.92 L90.82,142.56 L91.57,142.21 L92.32,141.89 L93.09,141.59 L93.86,141.32 L94.64,141.09 L95.43,140.89 L96.23,140.74 L97.04,140.64 L97.86,140.57 L98.68,140.53 L99.51,140.52 L100.34,140.53 L101.16,140.57 L101.99,140.61 L102.81,140.67 L103.63,140.73 L104.45,140.80 L105.26,140.88 L106.08,140.97 L106.89,141.06 L107.70,141.16 L108.51,141.27 L109.32,141.37 L110.14,141.48 L110.95,141.59 L111.76,141.70 L112.57,141.81 L113.39,141.92 L114.20,142.03 L115.02,142.13 L115.84,142.22 L116.65,142.30 L117.47,142.36 L118.29,142.39 L119.11,142.40 L119.93,142.38 L120.74,142.33 L121.56,142.25 L122.38,142.14 L123.19,142.01 L124.00,141.86 L124.80,141.69 L125.60,141.51 L126.40,141.31 L127.19,141.10 L127.98,140.88 L128.77,140.65 L129.55,140.41 L130.33,140.15 L131.11,139.89 L131.88,139.62 L132.66,139.34 L133.43,139.06 L134.19,138.76 L134.96,138.46 L135.72,138.16 L136.48,137.85 L137.25,137.53 L138.01,137.22 L138.77,136.90 L139.53,136.58 L140.29,136.27 L141.05,135.97 L141.82,135.67 L142.59,135.39 L143.36,135.12 L144.14,134.87 L144.92,134.64 L145.71,134.42 L146.50,134.23 L147.30,134.06 L148.11,133.92 L148.91,133.78 L149.73,133.67 L150.54,133.56 L151.36,133.47 L152.18,133.38 L152.99,133.30 L153.81,133.22 L154.63,133.14 L155.45,133.05 L156.27,132.97 L157.09,132.88 L157.91,132.79 L158.72,132.70 L159.54,132.60 L160.35,132.50 L161.16,132.39 L161.97,132.28 L162.78,132.17 L163.59,132.05 L164.40,131.92 L165.21,131.80 L166.02,131.66 L166.83,131.53 L167.64,131.38 L168.44,131.24 L169.25,131.08 L170.05,130.93 L170.86,130.76 L171.66,130.60 L172.46,130.42 L173.26,130.25 L174.06,130.06 L174.86,129.87 L175.66,129.68 L176.45,129.48 L177.25,129.27 L178.04,129.06 L178.83,128.85 L179.62,128.62 L180.41,128.40 L181.20,128.17 L181.98,127.93 L182.77,127.69 L183.55,127.44 L184.33,127.19 L185.11,126.94 L185.89,126.68 L186.66,126.42 L187.44,126.15 L188.22,125.88 L188.99,125.61 L189.76,125.34 L190.53,125.06 L191.30,124.78 L192.07,124.49 L192.84,124.21 L193.61,123.92 L194.38,123.64 L195.15,123.35 L195.91,123.06 L196.68,122.78 L197.45,122.49 L198.22,122.20 L198.99,121.92 L199.76,121.63 L200.53,121.35 L201.30,121.07 L202.07,120.80 L202.84,120.52 L203.62,120.25 L204.39,119.97 L205.16,119.70 L205.93,119.42 L206.70,119.14 L207.48,118.86 L208.25,118.58 L209.02,118.30 L209.78,118.02 L210.55,117.73 L211.32,117.43 L212.08,117.13 L212.84,116.83 L213.60,116.53 L214.36,116.22 L215.12,115.90 L215.87,115.58 L216.63,115.26 L217.38,114.93 L218.13,114.60 L218.88,114.27 L219.63,113.93 L220.37,113.59 L221.12,113.24 L221.86,112.89 L222.60,112.54 L223.34,112.19 L224.08,111.83 L224.82,111.47 L225.55,111.10 L226.28,110.74 L227.02,110.36 L227.75,109.99 L228.47,109.61 L229.20,109.23 L229.92,108.84 L230.64,108.45 L231.36,108.06 L232.07,107.67 L232.79,107.27 L233.50,106.87 L234.22,106.48 L234.94,106.08 L235.65,105.68 L236.37,105.29 L237.10,104.90 L237.82,104.51 L238.55,104.13 L239.29,103.75 L240.02,103.38 L240.76,103.01 L241.51,102.64 L242.24,102.27 L242.98,101.89 L243.71,101.51 L244.43,101.12 L245.15,100.71 L245.85,100.30 L246.55,99.87 L247.23,99.42 L247.89,98.94 L248.53,98.45 L249.16,97.94 L249.77,97.40 L250.36,96.84 L250.94,96.26 L251.51,95.66 L252.06,95.06 L252.61,94.44 L253.15,93.81 L253.68,93.18 L254.22,92.54 L254.75,91.90 L255.29,91.27 L255.84,90.65 L256.40,90.04 L256.97,89.46 L257.57,88.91 L258.20,88.40 L258.86,87.92 L259.55,87.49 L260.26,87.08 L260.99,86.70 L261.73,86.33 L262.47,85.97 L263.20,85.60 L263.93,85.22 L264.66,84.83 L265.38,84.44 L266.10,84.05 L266.82,83.66 L267.54,83.28 L268.26,82.90 L268.99,82.52 L269.72,82.15 L270.45,81.79 L271.19,81.42 L271.93,81.07 L272.67,80.71 L273.41,80.36 L274.15,80.02 L274.90,79.68 L275.65,79.34 L276.40,79.00 L277.15,78.67 L277.90,78.34 L278.65,78.01 L279.40,77.68 L280.16,77.36 L280.91,77.04 L281.67,76.72 L282.42,76.40 L283.18,76.08 L283.94,75.76 L284.69,75.44 L285.45,75.12 L286.21,74.81 L286.96,74.49 L287.72,74.18 L288.47,73.86 L289.23,73.54 L289.99,73.23 L290.74,72.91 L291.50,72.59 L292.25,72.27 L293.01,71.95 L293.76,71.63 L294.52,71.31 L295.27,70.98 L296.02,70.66 L296.77,70.33 L297.52,70.00 L298.27,69.67 L299.03,69.34 L299.78,69.01 L300.53,68.68 L301.28,68.35 L302.02,68.02 L302.77,67.68 L303.52,67.35 L304.27,67.02 L305.02,66.68 L305.77,66.35 L306.52,66.02 L307.27,65.69 L308.02,65.36 L308.78,65.03 L309.53,64.71 L310.28,64.38 L311.03,64.05 L311.79,63.73 L312.54,63.41 L313.29,63.09 L314.05,62.77 L314.81,62.46 L315.56,62.15 L316.32,61.84 L317.08,61.53 L317.84,61.23 L318.61,60.93 L319.37,60.63 L320.13,60.33 L320.90,60.04 L321.67,59.76 L322.44,59.47 L323.21,59.19 L323.98,58.92 L324.76,58.65 L325.53,58.38 L326.31,58.12 L327.09,57.86 L327.87,57.61 L328.65,57.37 L329.44,57.12 L330.23,56.89 L331.02,56.66 L331.81,56.43 L332.60,56.21 L333.40,56.00" stroke="#1a1a1a"/>
<path d="M450.80,294.50 L450.81,293.66 L450.83,292.83 L450.84,291.99 L450.85,291.15 L450.87,290.32 L450.88,289.48 L450.89,288.64 L450.90,287.80 L450.91,286.97 L450.93,286.13 L450.94,285.29 L450.95,284.46 L450.96,283.62 L450.97,282.78 L450.99,281.95 L451.00,281.11 L451.01,280.27 L451.02,279.44 L451.03,278.60 L451.04,277.76 L451.05,276.92 L451.07,276.09 L451.08,275.25 L451.09,274.41 L451.10,273.58 L451.11,272.74 L451.12,271.90 L451.13,271.07 L451.15,270.23 L451.16,269.39 L451.17,268.56 L451.18,267.72 L451.19,266.88 L451.21,266.04 L451.22,265.21 L451.23,264.37 L451.24,263.53 L451.26,262.70 L451.27,261.86 L451.28,261.02 L451.30,260.19 L451.31,259.35 L451.32,258.51 L451.34,257.68 L451.35,256.84 L451.37,256.00 L451.38,255.16 L451.40,254.33 L451.41,253.49 L451.43,252.65 L451.44,251.82 L451.46,250.98 L451.48,250.14 L451.49,249.31 L451.51,248.47 L451.53,247.63 L451.55,246.80 L451.57,245.96 L451.58,245.12 L451.60,244.29 L451.62,243.45 L451.64,242.61 L451.66,241.78 L451.68,240.94 L451.71,240.10 L451.73,239.27 L451.75,238.43 L451.77,237.59 L451.79,236.76 L451.82,235.92 L451.84,235.08 L451.87,234.25 L451.89,233.41 L451.92,232.57 L451.94,231.74 L451.97,230.90 L452.00,230.06 L452.03,229.23 L452.05,228.39 L452.08,227.55 L452.11,226.72 L452.14,225.88 L452.17,225.04 L452.21,224.21 L452.24,223.37 L452.27,222.53 L452.31,221.70 L452.34,220.86 L452.38,220.02 L452.41,219.19 L452.45,218.35 L452.49,217.52 L452.53,216.68 L452.57,215.84 L452.61,215.01 L452.66,214.17 L452.70,213.34 L452.74,212.50 L452.79,211.66 L452.84,210.83 L452.89,209.99 L452.93,209.16 L452.99,208.32 L453.04,207.49 L453.09,206.65 L453.15,205.82 L453.20,204.98 L453.26,204.15 L453.32,203.31 L453.38,202.48 L453.44,201.64 L453.50,200.81 L453.56,199.97 L453.62,199.14 L453.69,198.30 L453.75,197.47 L453.82,196.63 L453.88,195.80 L453.95,194.96 L454.01,194.13 L454.08,193.30 L454.14,192.46 L454.21,191.63 L454.27,190.79 L454.34,189.96 L454.40,189.12 L454.46,188.29 L454.52,187.45 L454.58,186.62 L454.64,185.78 L454.70,184.95 L454.76,184.11 L454.82,183.28 L454.87,182.44 L454.93,181.61 L454.99,180.77 L455.04,179.94 L455.10,179.10 L455.15,178.27 L455.21,177.43 L455.27,176.60 L455.33,175.76 L455.39,174.93 L455.45,174.09 L455.52,173.26 L455.59,172.43 L455.66,171.59 L455.73,170.76 L455.81,169.92 L455.89,169.09 L455.97,168.26 L456.06,167.42 L456.15,166.59 L456.24,165.76 L456.34,164.93 L456.44,164.09 L456.54,163.26 L456.65,162.43 L456.77,161.60 L456.88,160.78 L457.01,159.95 L457.13,159.12 L457.26,158.30 L457.40,157.47 L457.54,156.65 L457.69,155.83 L457.83,155.00 L457.99,154.18 L458.14,153.36 L458.31,152.54 L458.47,151.72 L458.64,150.90 L458.81,150.08 L458.99,149.27 L459.17,148.45 L459.36,147.63 L459.55,146.81 L459.74,145.99 L459.94,145.18 L460.13,144.36 L460.34,143.54 L460.54,142.72 L460.75,141.91 L460.96,141.09 L461.18,140.28 L461.40,139.46 L461.62,138.66 L461.84,137.85 L462.07,137.05 L462.29,136.25 L462.52,135.45 L462.75,134.66 L462.99,133.87 L463.24,133.09 L463.51,132.32 L463.83,131.56 L464.22,130.80 L464.67,130.06 L465.22,129.32 L465.86,128.65 L466.56,128.14 L467.30,127.90 L468.06,128.03 L468.80,128.45 L469.48,129.06 L470.07,129.75 L470.57,130.46 L470.98,131.20 L471.33,131.96 L471.63,132.73 L471.90,133.52 L472.14,134.31 L472.38,135.10 L472.62,135.90 L472.86,136.70 L473.10,137.50 L473.34,138.30 L473.57,139.10 L473.81,139.91 L474.04,140.71 L474.27,141.52 L474.49,142.33 L474.71,143.14 L474.93,143.95 L475.14,144.76 L475.35,145.57 L475.55,146.39 L475.74,147.20 L475.93,148.02 L476.12,148.84 L476.30,149.65 L476.48,150.47 L476.65,151.29 L476.82,152.11 L476.99,152.93 L477.16,153.75 L477.33,154.57 L477.50,155.39 L477.67,156.21 L477.84,157.03 L478.01,157.85 L478.19,158.67 L478.38,159.48 L478.57,160.30 L478.77,161.11 L478.99,161.92 L479.21,162.73 L479.45,163.53 L479.71,164.32 L479.98,165.12 L480.26,165.91 L480.54,166.69 L480.83,167.48 L481.12,168.26 L481.41,169.05 L481.69,169.83 L481.98,170.62 L482.27,171.40 L482.56,172.19 L482.87,172.97 L483.18,173.75 L483.51,174.53 L483.86,175.29 L484.24,176.04 L484.67,176.76 L485.15,177.44 L485.70,178.07 L486.31,178.65 L486.98,179.17 L487.69,179.63 L488.44,180.02 L489.23,180.33 L490.04,180.57 L490.86,180.73 L491.69,180.81 L492.52,180.82 L493.36,180.75 L494.18,180.64 L495.01,180.48 L495.84,180.29 L496.66,180.09 L497.49,179.88 L498.30,179.67 L499.12,179.45 L499.93,179.23 L500.73,179.00 L501.53,178.76 L502.33,178.51 L503.11,178.24 L503.89,177.94 L504.66,177.63 L505.43,177.29 L506.18,176.94 L506.94,176.57 L507.68,176.20 L508.43,175.82 L509.18,175.43 L509.92,175.05 L510.67,174.66 L511.42,174.29 L512.18,173.92 L512.94,173.57 L513.70,173.21 L514.46,172.87 L515.23,172.54 L516.00,172.21 L516.77,171.88 L517.54,171.57 L518.32,171.25 L519.10,170.95 L519.88,170.65 L520.66,170.35 L521.44,170.06 L522.23,169.77 L523.02,169.49 L523.81,169.21 L524.60,168.93 L525.39,168.65 L526.18,168.38 L526.97,168.11 L527.76,167.85 L528.56,167.58 L529.35,167.31 L530.15,167.05 L530.94,166.79 L531.74,166.53 L532.53,166.26 L533.33,166.00 L534.12,165.74 L534.92,165.48 L535.71,165.22 L536.51,164.96 L537.31,164.70 L538.10,164.45 L538.90,164.19 L539.69,163.93 L540.49,163.67 L541.29,163.41 L542.08,163.15 L542.88,162.89 L543.67,162.63 L544.47,162.37 L545.27,162.11 L546.06,161.86 L546.86,161.60 L547.65,161.34 L548.45,161.09 L549.25,160.83 L550.05,160.58 L550.84,160.32 L551.64,160.07 L552.44,159.82 L553.24,159.57 L554.04,159.32 L554.84,159.08 L555.64,158.83 L556.44,158.59 L557.24,158.35 L558.04,158.11 L558.85,157.87 L559.65,157.63 L560.45,157.40 L561.26,157.17 L562.06,156.94 L562.87,156.71 L563.68,156.49 L564.49,156.27 L565.29,156.05 L566.10,155.84 L566.91,155.62 L567.72,155.41 L568.54,155.21 L569.35,155.00 L570.16,154.80 L570.97,154.60 L571.79,154.41 L572.60,154.21 L573.42,154.02 L574.24,153.84 L575.05,153.65 L575.87,153.47 L576.69,153.30 L577.51,153.12 L578.33,152.95 L579.15,152.79 L579.97,152.62 L580.79,152.47 L581.61,152.31 L582.44,152.16 L583.26,152.01 L584.08,151.86 L584.91,151.72 L585.73,151.58 L586.56,151.44 L587.38,151.31 L588.21,151.17 L589.04,151.04 L589.86,150.91 L590.69,150.78 L591.52,150.65 L592.34,150.52 L593.17,150.39 L594.00,150.27 L594.83,150.14 L595.65,150.01 L596.48,149.88 L597.31,149.74 L598.13,149.61 L598.96,149.47 L599.78,149.34 L600.61,149.20 L601.44,149.05 L602.26,148.91 L603.08,148.76 L603.91,148.62 L604.73,148.47 L605.56,148.32 L606.38,148.17 L607.20,148.02 L608.03,147.88 L608.85,147.73 L609.68,147.58 L610.50,147.44 L611.33,147.30 L612.15,147.16 L612.98,147.02 L613.80,146.89 L614.63,146.76 L615.46,146.64 L616.28,146.51 L617.11,146.40 L617.94,146.29 L618.77,146.18 L619.60,146.07 L620.43,145.97 L621.26,145.87 L622.09,145.78 L622.93,145.69 L623.76,145.60 L624.59,145.51 L625.42,145.43 L626.26,145.35 L627.09,145.27 L627.92,145.19 L628.76,145.12 L629.59,145.05 L630.43,144.98 L631.26,144.91 L632.10,144.84 L632.93,144.77 L633.77,144.71 L634.60,144.64 L635.44,144.58 L636.27,144.52 L637.11,144.45 L637.95,144.39 L638.78,144.33 L639.62,144.27 L640.45,144.21 L641.29,144.15 L642.12,144.10 L642.96,144.04 L643.79,143.99 L644.63,143.94 L645.47,143.89 L646.30,143.85 L647.14,143.80 L647.97,143.77 L648.81,143.73 L649.65,143.70 L650.48,143.67 L651.32,143.65 L652.16,143.63 L652.99,143.61 L653.83,143.61 L654.67,143.60 L655.50,143.60 L656.34,143.61 L657.18,143.62 L658.02,143.63 L658.85,143.66 L659.69,143.68 L660.53,143.72 L661.36,143.76 L662.20,143.80 L663.04,143.85 L663.87,143.91 L664.71,143.97 L665.54,144.04 L666.38,144.11 L667.21,144.19 L668.04,144.28 L668.88,144.37 L669.71,144.46 L670.54,144.57 L671.37,144.68 L672.20,144.79 L673.03,144.91 L673.85,145.03 L674.68,145.15 L675.51,145.28 L676.34,145.40 L677.16,145.53 L677.99,145.66 L678.82,145.79 L679.65,145.92 L680.47,146.05 L681.30,146.18 L682.13,146.32 L682.95,146.45 L683.78,146.58 L684.60,146.72 L685.43,146.85 L686.26,146.98 L687.08,147.12 L687.91,147.25 L688.74,147.39 L689.56,147.52 L690.39,147.65 L691.21,147.79 L692.04,147.92 L692.87,148.05 L693.69,148.18 L694.52,148.31 L695.35,148.44 L696.17,148.57 L697.00,148.70 L697.83,148.83 L698.65,148.96 L699.48,149.09 L700.31,149.21 L701.14,149.34 L701.96,149.47 L702.79,149.60 L703.62,149.72 L704.44,149.85 L705.27,149.98 L706.10,150.11 L706.93,150.24 L707.75,150.37 L708.58,150.50 L709.41,150.63 L710.23,150.76 L711.06,150.89 L711.89,151.02 L712.72,151.14 L713.55,151.27 L714.37,151.38 L715.20,151.50 L716.03,151.60 L716.86,151.70 L717.70,151.80 L718.53,151.89 L719.36,151.97 L720.19,152.04 L721.03,152.11 L721.86,152.17 L722.70,152.22 L723.53,152.27 L724.37,152.31 L725.20,152.34 L726.04,152.37 L726.88,152.39 L727.72,152.40 L728.56,152.40 L729.40,152.40 L730.24,152.39 L731.08,152.38 L731.92,152.35 L732.76,152.32 L733.60,152.28 L734.44,152.23 L735.27,152.17 L736.11,152.09 L736.94,152.01 L737.77,151.91 L738.60,151.80 L739.43,151.68 L740.25,151.54 L741.08,151.39 L741.89,151.22 L742.71,151.03 L743.52,150.84 L744.33,150.63 L745.14,150.41 L745.94,150.19 L746.75,149.96 L747.56,149.73 L748.37,149.49 L749.18,149.27 L750.00,149.07 L750.82,148.92 L751.65,148.82 L752.49,148.80 L753.33,148.88 L754.15,149.07 L754.92,149.40 L755.61,149.87 L756.20,150.50" stroke="#f2222c"/>
<path d="M451.00,294.50 L451.01,293.80 L451.03,293.10 L451.04,292.40 L451.06,291.70 L451.07,291.00 L451.09,290.30 L451.10,289.60 L451.11,288.90 L451.13,288.20 L451.14,287.50 L451.15,286.80 L451.17,286.10 L451.18,285.41 L451.19,284.71 L451.20,284.01 L451.22,283.31 L451.23,282.61 L451.24,281.91 L451.25,281.21 L451.27,280.51 L451.28,279.81 L451.29,279.11 L451.30,278.41 L451.31,277.71 L451.32,277.01 L451.33,276.31 L451.35,275.61 L451.36,274.91 L451.37,274.21 L451.38,273.51 L451.39,272.81 L451.40,272.11 L451.41,271.41 L451.42,270.71 L451.44,270.01 L451.45,269.31 L451.46,268.61 L451.47,267.91 L451.48,267.22 L451.49,266.52 L451.50,265.82 L451.51,265.12 L451.53,264.42 L451.54,263.72 L451.55,263.02 L451.56,262.32 L451.57,261.62 L451.58,260.92 L451.60,260.22 L451.61,259.52 L451.62,258.82 L451.63,258.12 L451.64,257.42 L451.66,256.72 L451.67,256.02 L451.68,255.32 L451.70,254.62 L451.71,253.92 L451.72,253.22 L451.74,252.52 L451.75,251.82 L451.76,251.12 L451.78,250.43 L451.79,249.73 L451.81,249.03 L451.82,248.33 L451.83,247.63 L451.85,246.93 L451.86,246.23 L451.88,245.53 L451.90,244.83 L451.91,244.13 L451.93,243.43 L451.94,242.73 L451.96,242.03 L451.98,241.33 L452.00,240.63 L452.01,239.93 L452.03,239.23 L452.05,238.53 L452.07,237.83 L452.09,237.13 L452.11,236.43 L452.13,235.74 L452.15,235.04 L452.17,234.34 L452.19,233.64 L452.21,232.94 L452.23,232.24 L452.25,231.54 L452.27,230.84 L452.30,230.14 L452.32,229.44 L452.34,228.74 L452.37,228.04 L452.39,227.34 L452.41,226.64 L452.44,225.94 L452.46,225.24 L452.49,224.54 L452.52,223.85 L452.54,223.15 L452.57,222.45 L452.60,221.75 L452.63,221.05 L452.66,220.35 L452.69,219.65 L452.72,218.95 L452.75,218.25 L452.78,217.55 L452.82,216.85 L452.85,216.15 L452.89,215.46 L452.92,214.76 L452.96,214.06 L452.99,213.36 L453.03,212.66 L453.07,211.96 L453.11,211.26 L453.15,210.57 L453.19,209.87 L453.23,209.17 L453.27,208.47 L453.32,207.77 L453.36,207.07 L453.41,206.38 L453.45,205.68 L453.50,204.98 L453.55,204.28 L453.60,203.58 L453.65,202.89 L453.70,202.19 L453.75,201.49 L453.81,200.79 L453.86,200.09 L453.91,199.40 L453.97,198.70 L454.02,198.00 L454.08,197.30 L454.13,196.61 L454.18,195.91 L454.24,195.21 L454.29,194.51 L454.35,193.82 L454.40,193.12 L454.46,192.42 L454.51,191.72 L454.57,191.03 L454.62,190.33 L454.67,189.63 L454.72,188.93 L454.77,188.23 L454.82,187.54 L454.87,186.84 L454.92,186.14 L454.97,185.44 L455.02,184.74 L455.06,184.05 L455.11,183.35 L455.15,182.65 L455.19,181.95 L455.24,181.25 L455.28,180.55 L455.32,179.85 L455.36,179.16 L455.41,178.46 L455.45,177.76 L455.49,177.06 L455.54,176.36 L455.58,175.66 L455.63,174.96 L455.68,174.27 L455.72,173.57 L455.77,172.87 L455.83,172.17 L455.88,171.48 L455.94,170.78 L455.99,170.08 L456.05,169.39 L456.12,168.69 L456.18,167.99 L456.25,167.30 L456.31,166.60 L456.38,165.91 L456.45,165.21 L456.52,164.51 L456.60,163.82 L456.67,163.12 L456.74,162.43 L456.81,161.73 L456.89,161.03 L456.96,160.34 L457.03,159.64 L457.10,158.94 L457.18,158.25 L457.25,157.55 L457.31,156.85 L457.38,156.15 L457.45,155.46 L457.52,154.76 L457.58,154.06 L457.65,153.36 L457.71,152.66 L457.78,151.96 L457.84,151.27 L457.90,150.57 L457.97,149.87 L458.03,149.18 L458.09,148.48 L458.15,147.78 L458.21,147.09 L458.28,146.39 L458.34,145.70 L458.40,145.01 L458.46,144.32 L458.52,143.62 L458.59,142.93 L458.65,142.24 L458.72,141.55 L458.78,140.86 L458.85,140.17 L458.92,139.48 L458.99,138.79 L459.07,138.10 L459.14,137.41 L459.22,136.71 L459.30,136.02 L459.39,135.32 L459.48,134.62 L459.57,133.92 L459.67,133.22 L459.77,132.52 L459.87,131.81 L459.98,131.11 L460.10,130.40 L460.22,129.68 L460.34,128.97 L460.46,128.26 L460.59,127.56 L460.71,126.86 L460.84,126.16 L460.96,125.48 L461.09,124.80 L461.20,124.14 L461.32,123.48 L461.43,122.85 L461.53,122.22 L461.63,121.61 L461.73,120.99 L461.84,120.37 L461.95,119.74 L462.07,119.09 L462.20,118.42 L462.35,117.72 L462.51,116.98 L462.70,116.20 L462.91,115.36 L463.14,114.48 L463.40,113.59 L463.69,112.79 L464.00,112.17 L464.34,111.84 L464.69,111.86 L465.06,112.25 L465.44,112.89 L465.79,113.69 L466.11,114.54 L466.40,115.36 L466.64,116.15 L466.84,116.89 L467.01,117.61 L467.16,118.30 L467.28,118.97 L467.38,119.62 L467.47,120.26 L467.55,120.89 L467.62,121.52 L467.70,122.15 L467.77,122.78 L467.86,123.42 L467.95,124.08 L468.05,124.74 L468.16,125.41 L468.28,126.09 L468.40,126.77 L468.52,127.46 L468.65,128.16 L468.79,128.85 L468.92,129.56 L469.06,130.26 L469.20,130.97 L469.34,131.67 L469.48,132.38 L469.62,133.08 L469.76,133.79 L469.89,134.49 L470.02,135.18 L470.15,135.88 L470.28,136.57 L470.40,137.26 L470.52,137.95 L470.64,138.64 L470.76,139.33 L470.88,140.01 L470.99,140.70 L471.11,141.38 L471.22,142.07 L471.33,142.75 L471.43,143.44 L471.54,144.13 L471.65,144.81 L471.75,145.50 L471.86,146.19 L471.96,146.88 L472.06,147.57 L472.16,148.26 L472.26,148.95 L472.36,149.64 L472.46,150.34 L472.56,151.03 L472.65,151.72 L472.75,152.42 L472.85,153.11 L472.94,153.80 L473.04,154.50 L473.14,155.19 L473.23,155.89 L473.33,156.58 L473.42,157.28 L473.52,157.97 L473.61,158.67 L473.71,159.36 L473.81,160.06 L473.91,160.75 L474.00,161.44 L474.10,162.14 L474.20,162.83 L474.29,163.52 L474.39,164.22 L474.49,164.91 L474.59,165.60 L474.68,166.30 L474.78,166.99 L474.87,167.68 L474.96,168.38 L475.05,169.07 L475.14,169.76 L475.23,170.46 L475.32,171.15 L475.40,171.84 L475.49,172.54 L475.57,173.23 L475.65,173.93 L475.73,174.62 L475.81,175.32 L475.88,176.01 L475.96,176.71 L476.03,177.40 L476.10,178.10 L476.17,178.79 L476.24,179.49 L476.31,180.19 L476.38,180.88 L476.45,181.58 L476.52,182.28 L476.58,182.97 L476.65,183.67 L476.71,184.37 L476.78,185.06 L476.84,185.76 L476.90,186.46 L476.97,187.16 L477.03,187.85 L477.09,188.55 L477.15,189.25 L477.22,189.94 L477.28,190.64 L477.34,191.34 L477.40,192.04 L477.47,192.73 L477.53,193.43 L477.59,194.13 L477.66,194.83 L477.72,195.52 L477.78,196.22 L477.85,196.92 L477.92,197.61 L477.98,198.31 L478.05,199.01 L478.12,199.70 L478.19,200.40 L478.27,201.10 L478.34,201.79 L478.42,202.49 L478.49,203.18 L478.57,203.88 L478.65,204.57 L478.74,205.27 L478.82,205.96 L478.91,206.66 L479.00,207.35 L479.09,208.04 L479.19,208.73 L479.28,209.43 L479.38,210.12 L479.49,210.81 L479.59,211.50 L479.69,212.19 L479.80,212.89 L479.90,213.58 L480.01,214.27 L480.11,214.96 L480.22,215.65 L480.33,216.35 L480.43,217.04 L480.53,217.73 L480.64,218.42 L480.74,219.12 L480.85,219.81 L480.96,220.50 L481.09,221.19 L481.22,221.88 L481.36,222.56 L481.51,223.25 L481.68,223.93 L481.87,224.60 L482.08,225.27 L482.31,225.93 L482.56,226.59 L482.84,227.23 L483.14,227.86 L483.48,228.48 L483.85,229.08 L484.26,229.65 L484.72,230.19 L485.23,230.68 L485.80,231.09 L486.45,231.41 L487.15,231.61 L487.86,231.67 L488.53,231.53 L489.14,231.20 L489.68,230.74 L490.16,230.18 L490.58,229.59 L490.96,228.99 L491.29,228.37 L491.60,227.75 L491.91,227.13 L492.22,226.51 L492.56,225.90 L492.93,225.31 L493.35,224.73 L493.81,224.18 L494.33,223.67 L494.88,223.21 L495.46,222.81 L496.07,222.48 L496.71,222.23 L497.36,222.07 L498.03,221.98 L498.72,221.97 L499.41,222.02 L500.12,222.12 L500.83,222.27 L501.54,222.46 L502.25,222.68 L502.96,222.92 L503.66,223.17 L504.35,223.43 L505.04,223.70 L505.71,223.96 L506.38,224.23 L507.03,224.50 L507.68,224.78 L508.33,225.06 L508.96,225.34 L509.59,225.63 L510.22,225.92 L510.84,226.22 L511.46,226.52 L512.07,226.83 L512.68,227.14 L513.29,227.46 L513.89,227.78 L514.50,228.11 L515.10,228.44 L515.70,228.79 L516.30,229.13 L516.90,229.49 L517.50,229.85 L518.10,230.21 L518.70,230.58 L519.29,230.95 L519.88,231.32 L520.48,231.70 L521.07,232.08 L521.66,232.47 L522.25,232.86 L522.83,233.25 L523.42,233.64 L524.00,234.03 L524.58,234.43 L525.16,234.83 L525.74,235.22 L526.32,235.63 L526.90,236.03 L527.47,236.43 L528.05,236.83 L528.62,237.24 L529.19,237.65 L529.76,238.06 L530.33,238.47 L530.90,238.88 L531.46,239.29 L532.03,239.70 L532.59,240.12 L533.15,240.54 L533.71,240.96 L534.27,241.38 L534.83,241.80 L535.38,242.22 L535.94,242.64 L536.49,243.07 L537.05,243.50 L537.60,243.93 L538.15,244.35 L538.70,244.79 L539.25,245.22 L539.79,245.65 L540.34,246.09 L540.89,246.52 L541.43,246.96 L541.97,247.40 L542.51,247.84 L543.05,248.28 L543.59,248.72 L544.13,249.17 L544.67,249.61 L545.21,250.06 L545.74,250.51 L546.28,250.96 L546.81,251.41 L547.34,251.86 L547.88,252.32 L548.41,252.77 L548.94,253.23 L549.46,253.69 L549.99,254.14 L550.52,254.61 L551.04,255.07 L551.57,255.53 L552.09,256.00 L552.61,256.46 L553.13,256.93 L553.65,257.40 L554.17,257.87 L554.69,258.34 L555.21,258.82 L555.72,259.29 L556.24,259.77 L556.75,260.25 L557.26,260.73 L557.77,261.21 L558.28,261.69 L558.79,262.17 L559.30,262.66 L559.80,263.15 L560.30,263.64 L560.80,264.14 L561.29,264.64 L561.77,265.15 L562.24,265.67 L562.70,266.19 L563.15,266.73 L563.59,267.27 L564.02,267.82 L564.43,268.39 L564.83,268.96 L565.21,269.55 L565.58,270.14 L565.94,270.74 L566.28,271.35 L566.62,271.97 L566.94,272.60 L567.24,273.23 L567.54,273.87 L567.83,274.51 L568.10,275.16 L568.36,275.82 L568.62,276.47 L568.86,277.13 L569.09,277.80 L569.32,278.46 L569.53,279.13 L569.74,279.80 L569.93,280.46 L570.12,281.13 L570.30,281.80" stroke="#1a1a1a"/>
</g>
<rect x="53.5" y="50.5" width="118.3" height="39.3" fill="#fff" stroke="#858585" stroke-width="1.4"/>
<line x1="55.8" y1="57.00" x2="85.9" y2="57.00" stroke="#ff3030" stroke-width="1.6"/>
<text x="88.6" y="61.25" class="lg" textLength="25.4" lengthAdjust="spacingAndGlyphs">Virgin</text>
<line x1="55.8" y1="69.95" x2="85.9" y2="69.95" stroke="#2a2a2a" stroke-width="1.6"/>
<text x="88.6" y="74.20" class="lg" textLength="79.4" lengthAdjust="spacingAndGlyphs">Granulate regrind</text>
<line x1="55.8" y1="82.90" x2="85.9" y2="82.90" stroke="#3a3ae6" stroke-width="1.6"/>
<text x="88.6" y="87.15" class="lg" textLength="68.4" lengthAdjust="spacingAndGlyphs">Powder regrind</text>
<rect x="633.1" y="48.3" width="119.8" height="26" fill="#fff" stroke="#858585" stroke-width="1.4"/>
<line x1="635.9" y1="55.20" x2="665.3" y2="55.20" stroke="#ff3030" stroke-width="1.6"/>
<text x="667.6" y="59.30" class="lg" style="font-size:9.0px" textLength="79.8" lengthAdjust="spacingAndGlyphs">(100/B/Virgin/80)</text>
<line x1="635.9" y1="67.90" x2="665.3" y2="67.90" stroke="#2a2a2a" stroke-width="1.6"/>
<text x="667.6" y="72.00" class="lg" style="font-size:9.0px" textLength="81.2" lengthAdjust="spacingAndGlyphs">(90/A/Powder/90)</text>
<text x="186.3" y="375.0" class="cap"><tspan font-size="19.5px">(</tspan><tspan font-weight="bold" dy="-0.6">a</tspan><tspan font-size="19.5px" dy="0.6">)</tspan></text>
<text x="574.6" y="375.0" class="cap"><tspan font-size="19.5px">(</tspan><tspan font-weight="bold" dy="-0.6">b</tspan><tspan font-size="19.5px" dy="0.6">)</tspan></text>
</svg>
</body></html>
